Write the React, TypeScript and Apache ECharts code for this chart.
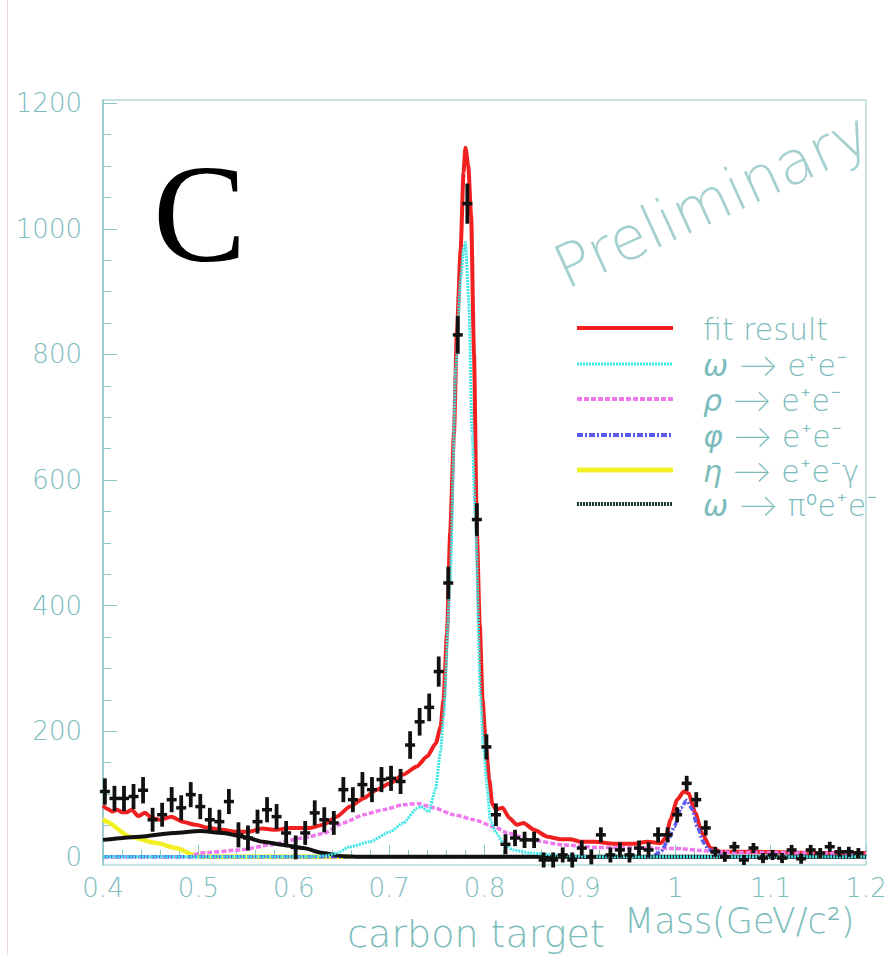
import React, { useEffect, useRef } from "react";
import * as echarts from "echarts";

// ---- measured data points (bin centre, counts, error) ----
const massBins = [
  0.402, 0.412, 0.422, 0.432, 0.442, 0.452, 0.462, 0.472, 0.482, 0.492,
  0.502, 0.512, 0.522, 0.532, 0.542, 0.552, 0.562, 0.572, 0.582, 0.592,
  0.602, 0.612, 0.622, 0.632, 0.642, 0.652, 0.662, 0.672, 0.682, 0.692,
  0.702, 0.712, 0.722, 0.732, 0.742, 0.752, 0.762, 0.772, 0.782, 0.792,
  0.802, 0.812, 0.822, 0.832, 0.842, 0.852, 0.862, 0.872, 0.882, 0.892,
  0.902, 0.912, 0.922, 0.932, 0.942, 0.952, 0.962, 0.972, 0.982, 0.992,
  1.002, 1.012, 1.022, 1.032, 1.042, 1.052, 1.062, 1.072, 1.082, 1.092,
  1.102, 1.112, 1.122, 1.132, 1.142, 1.152, 1.162, 1.172, 1.182, 1.192,
];
const counts = [
  104, 93, 93, 96, 106, 59, 67, 91, 78, 99,
  80, 59, 56, 88, 35, 30, 56, 75, 64, 38,
  15, 38, 70, 59, 54, 107, 91, 115, 107, 123,
  125, 120, 178, 215, 238, 295, 436, 831, 1040, 537,
  175, 67, 20, 30, 27, 27, -5, -5, 3, -5,
  14, 0, 35, 3, 11, 3, 14, 11, 35, 35,
  67, 117, 91, 46, 8, 0, 16, -5, 14, -2,
  3, -2, 11, -3, 11, 6, 16, 8, 8, 6,
];
const errors = [
  21, 20, 20, 20, 21, 19, 19, 20, 20, 20,
  20, 19, 19, 20, 20, 20, 19, 20, 20, 19,
  19, 19, 20, 20, 19, 20, 20, 20, 20, 20,
  20, 20, 22, 22, 22, 24, 26, 30, 32, 26,
  20, 18, 16, 13, 13, 13, 12, 12, 12, 12,
  12, 12, 12, 12, 12, 12, 12, 12, 12, 12,
  12, 12, 12, 12, 8, 8, 8, 8, 8, 8,
  8, 8, 8, 8, 8, 8, 8, 8, 8, 8,
];

// ---- fit result (red) ----
const fitX = [
  0.4, 0.405, 0.41, 0.415, 0.42, 0.425, 0.43, 0.437, 0.444, 0.451, 0.46, 0.472, 0.483,
  0.497, 0.511, 0.525, 0.539, 0.553, 0.567, 0.581, 0.596, 0.617, 0.631, 0.645, 0.659,
  0.673, 0.687, 0.701, 0.715, 0.729, 0.74, 0.749, 0.754, 0.757, 0.7607, 0.764, 0.768,
  0.771, 0.775, 0.778, 0.78, 0.783, 0.786, 0.789, 0.792, 0.795, 0.798, 0.801, 0.805,
  0.808, 0.812, 0.816, 0.819, 0.826, 0.834, 0.841, 0.852, 0.866, 0.88, 0.89, 0.901,
  0.915, 0.936, 0.957, 0.971, 0.985, 0.99, 0.995, 1.002, 1.009, 1.014, 1.021, 1.028,
  1.037, 1.048, 1.076, 1.12, 1.16, 1.2,
];
const fitY = [
  82, 76, 72, 75, 71, 71, 75, 65, 70, 62, 59, 64, 56,
  51, 46, 43, 40, 40, 45, 43, 46, 46, 51, 64, 80,
  93, 107, 117, 131, 144, 160, 181, 207, 250, 356, 516, 675,
  834, 967, 1090, 1129, 1100, 1020, 800, 516, 370, 250, 186, 123,
  85, 75, 77, 78, 62, 51, 54, 43, 32, 28, 28, 24,
  24, 21, 21, 24, 22, 30, 59, 91, 104, 101, 70, 38,
  14, 8, 8, 7, 6, 6,
];

// ---- omega -> e+e- (cyan) ----
const omegaX = [
  0.4, 0.62, 0.635, 0.645, 0.659, 0.68, 0.701, 0.715, 0.729, 0.733, 0.7416, 0.7486,
  0.754, 0.757, 0.764, 0.77, 0.775, 0.778, 0.78, 0.7835, 0.787, 0.7905, 0.7958, 0.799,
  0.803, 0.806, 0.812, 0.82, 0.83, 0.848, 0.88, 0.92, 1.2,
];
const omegaY = [
  0, 0, 2, 6, 16, 24, 40, 54, 77, 80, 72, 107,
  170, 223, 436, 781, 920, 965, 978, 887, 675, 537, 255, 175,
  107, 59, 38, 22, 11, 6, 2, 0, 0,
];

// ---- rho -> e+e- (magenta) ----
const rhoX = [
  0.4, 0.49, 0.502, 0.544, 0.575, 0.61, 0.631, 0.652, 0.673, 0.694, 0.715, 0.73,
  0.747, 0.768, 0.789, 0.81, 0.824, 0.848, 0.883, 0.918, 0.971, 1.006, 1.027, 1.06, 1.2,
];
const rhoY = [
  0, 0, 6, 11, 19, 30, 37, 54, 67, 75, 83, 85,
  78, 67, 59, 48, 38, 27, 19, 15, 14, 13, 10, 7, 5,
];

// ---- phi -> e+e- (blue) ----
const phiX = [0.4, 0.975, 0.985, 0.992, 0.999, 1.006, 1.012, 1.018, 1.023, 1.03, 1.035, 1.045, 1.055, 1.2];
const phiY = [0, 0, 8, 25, 48, 78, 90, 75, 48, 22, 12, 2, 0, 0];

// ---- eta -> e+e-gamma (yellow) ----
const etaX = [0.4, 0.404, 0.428, 0.456, 0.477, 0.495, 0.505, 0.66];
const etaY = [60, 56, 32, 22, 14, 3, 0, 0];

// ---- omega -> pi0 e+e- (black) ----
const dalitzX = [0.4, 0.439, 0.474, 0.502, 0.526, 0.547, 0.568, 0.589, 0.61, 0.631, 0.652, 0.67, 1.2];
const dalitzY = [27, 32, 38, 41, 38, 32, 24, 19, 14, 6, 1, 0, 0];

// ---- axis ticks ----
const yTickValues = [0, 200, 400, 600, 800, 1000, 1200];
const yMinorValues = [50, 100, 150, 250, 300, 350, 450, 500, 550, 650, 700, 750, 850, 900, 950, 1050, 1100, 1150];

const legendItems = [
  { label: "fit result", color: "#f02020", dash: null as number[] | null, width: 4 },
  { label: "{g|ω} ⟶ e⁺e⁻", color: "#3fe6e6", dash: [2, 1], width: 3 },
  { label: "{g|ρ} ⟶ e⁺e⁻", color: "#ee7aee", dash: [5, 2], width: 4 },
  { label: "{g|φ} ⟶ e⁺e⁻", color: "#5a5af0", dash: [6, 2, 2, 2], width: 4 },
  { label: "{g|η} ⟶ e⁺e⁻γ", color: "#f2f022", dash: null, width: 5 },
  { label: "{g|ω} ⟶ π⁰e⁺e⁻", color: "#1c3c3c", dash: [2, 1], width: 4 },
];

const zip = (xs: number[], ys: number[]) => xs.map((x, i) => [x, ys[i]]);

const TXT = "#7cbcbc";
const AXC = "#8cc6c6";
const FONT = "'DejaVu Sans', Inter, sans-serif";

export default function App() {
  const ref = useRef<HTMLDivElement>(null);
  useEffect(() => {
    if (!ref.current) return;
    const chart = echarts.init(ref.current, undefined, { renderer: "svg" });
    const lineSeries = (name: string, xs: number[], ys: number[], color: string, width: number, type: any, z: number) => ({
      name,
      type: "line",
      data: zip(xs, ys),
      showSymbol: false,
      symbol: "none",
      smooth: 0.2,
      smoothMonotone: "x",
      clip: true,
      z,
      lineStyle: { color, width, type },
    });

    const legendGraphics: any[] = [];
    const rowsY = [328, 364, 399, 435, 470, 504];
    legendItems.forEach((it, i) => {
      legendGraphics.push({
        type: "line",
        shape: { x1: 577, y1: rowsY[i], x2: 673, y2: rowsY[i] },
        style: { stroke: it.color, lineWidth: it.width, lineDash: it.dash || undefined },
      });
      legendGraphics.push({
        type: "text",
        x: 703,
        y: rowsY[i] + 1,
        style: {
          text: it.label,
          fill: TXT,
          font: `200 30px ${FONT}`,
          lineHeight: 32,
          textVerticalAlign: "middle",
          textAlign: "left",
          rich: { g: { fontStyle: "italic", fontSize: 30, lineHeight: 32, fill: TXT, fontWeight: 200, fontFamily: FONT } },
        },
      });
    });

    chart.setOption({
      animation: false,
      grid: { left: 103, right: 27, top: 100, bottom: 90, show: true, borderColor: AXC, borderWidth: 1 },
      xAxis: {
        type: "value",
        min: 0.4,
        max: 1.2,
        interval: 0.1,
        axisLine: { lineStyle: { color: AXC, width: 1.5 } },
        axisTick: { inside: true, length: 12, lineStyle: { color: AXC } },
        minorTick: { show: true, splitNumber: 5, length: 7, lineStyle: { color: AXC } },
        splitLine: { show: false },
        axisLabel: { color: TXT, fontSize: 26, fontFamily: FONT, fontWeight: 200, margin: 10, showMinLabel: true, showMaxLabel: true },
      },
      yAxis: [
        {
          type: "value",
          min: -13,
          max: 1205,
          axisLine: { show: true, lineStyle: { color: AXC, width: 1.5 } },
          axisTick: { inside: true, length: 14, customValues: yTickValues, lineStyle: { color: AXC } },
          splitLine: { show: false },
          axisLabel: {
            customValues: yTickValues,
            formatter: (v: number) => String(v),
            color: TXT,
            fontSize: 26,
            fontFamily: FONT,
            fontWeight: 200,
            margin: 21,
          },
        },
        {
          type: "value",
          min: -13,
          max: 1205,
          position: "left",
          axisLine: { show: false },
          axisTick: { show: true, inside: true, length: 8, customValues: yMinorValues, lineStyle: { color: AXC } },
          splitLine: { show: false },
          axisLabel: { show: false },
        },
      ],
      series: [
        lineSeries("fit result", fitX, fitY, "#f02020", 4, "solid", 2),
        lineSeries("eta", etaX, etaY, "#f2f022", 4.5, "solid", 3),
        lineSeries("rho", rhoX, rhoY, "#ee7aee", 3.5, [5, 2], 3),
        lineSeries("phi", phiX, phiY, "#5a5af0", 3.5, [6, 2, 2, 2], 3),
        lineSeries("dalitz", dalitzX, dalitzY, "#111111", 4, "solid", 4),
        lineSeries("omega", omegaX, omegaY, "#3fe6e6", 3, [2, 1], 5),
        {
          name: "data",
          type: "custom",
          z: 6,
          clip: false,
          data: massBins.map((m, i) => [m, counts[i], errors[i]]),
          encode: { x: 0, y: 1 },
          renderItem: (params: any, api: any) => {
            const x = api.value(0);
            const y = api.value(1);
            const e = api.value(2);
            const c = api.coord([x, y]);
            const t = api.coord([x, y + e]);
            const b = api.coord([x, y - e]);
            return {
              type: "group",
              children: [
                { type: "line", shape: { x1: c[0], y1: t[1], x2: c[0], y2: b[1] }, style: { stroke: "#111", lineWidth: 3.8 } },
                { type: "line", shape: { x1: c[0] - 5, y1: c[1], x2: c[0] + 5, y2: c[1] }, style: { stroke: "#111", lineWidth: 3.5 } },
              ],
            };
          },
        },
      ],
      graphic: [
        { type: "line", shape: { x1: 7.5, y1: 0, x2: 7.5, y2: 955 }, style: { stroke: "#ecd6da", lineWidth: 1 } },
        {
          type: "text",
          x: 153,
          y: 283,
          style: { text: "C", font: "140px 'Liberation Serif', 'Times New Roman', serif", fill: "#000", textAlign: "left", textVerticalAlign: "bottom" },
        },
        {
          type: "text",
          x: 570,
          y: 298,
          rotation: 0.43,
          style: { text: "Preliminary", font: `200 60px ${FONT}`, fill: "#a4d0d0", textAlign: "left", textVerticalAlign: "bottom" },
        },
        {
          type: "text",
          x: 476,
          y: 953,
          style: { text: "carbon target", font: `200 38px ${FONT}`, fill: TXT, textAlign: "center", textVerticalAlign: "bottom" },
        },
        {
          type: "text",
          x: 624,
          y: 938,
          style: { text: "Mass(GeV/c²)", font: `200 35px ${FONT}`, fill: TXT, textAlign: "left", textVerticalAlign: "bottom" },
        },
        ...legendGraphics,
      ],
    });
    return () => chart.dispose();
  }, []);
  return <div ref={ref} style={{ position: "fixed", left: 0, top: 0, width: 893, height: 955, background: "#fff" }} />;
}
